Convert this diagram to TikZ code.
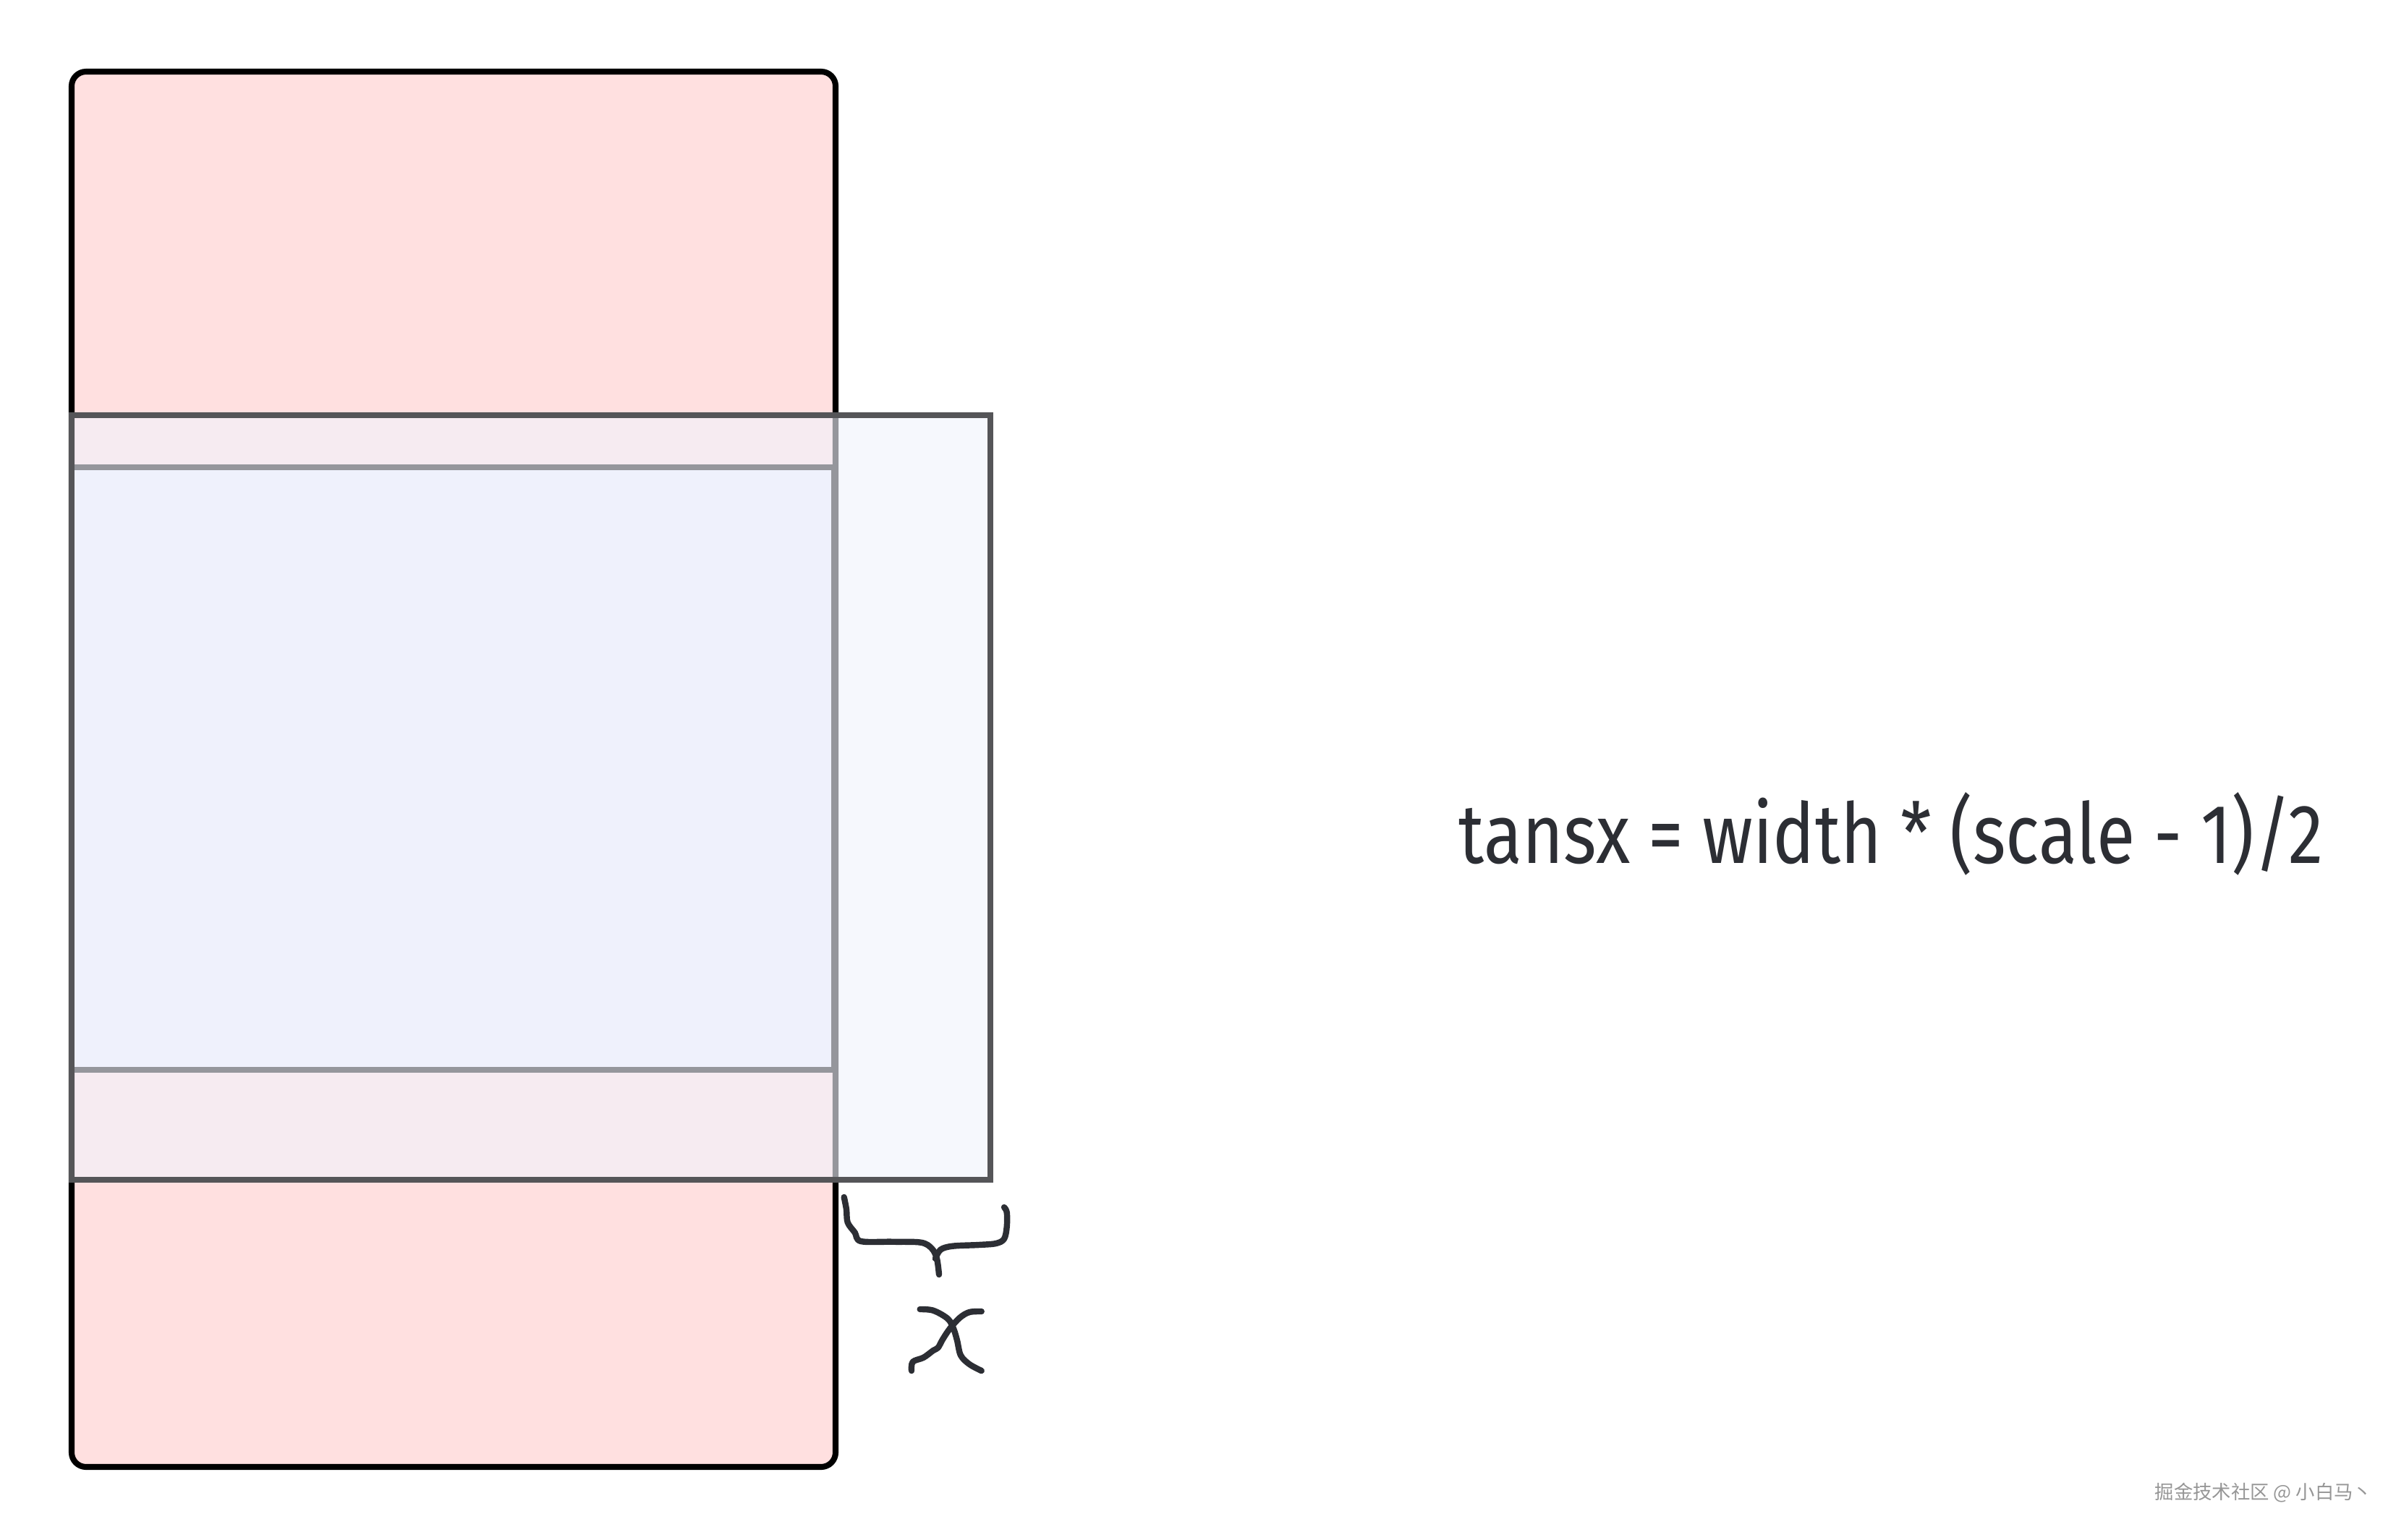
\documentclass[tikz,border=0pt]{standalone}
\usepackage{fontspec}
\setmainfont{Fira Sans}[FakeStretch=0.84]
\newfontfamily\cjkfont{Noto Sans CJK SC}
\usepackage{tikz}
\usetikzlibrary{positioning}
\usepackage{xcolor}
\definecolor{framepink}{RGB}{255,224,224}
\definecolor{innerblue}{RGB}{238,240,252}
\definecolor{overlayblue}{RGB}{241,243,252}
\definecolor{overlaygray}{RGB}{85,85,88}
\definecolor{inkdark}{RGB}{44,46,52}
\definecolor{markgray}{RGB}{150,150,150}

\begin{document}
\begin{tikzpicture}[
  pagebox/.style={draw=black, fill=framepink, line width=2.3pt,
    rounded corners=0.2cm, inner sep=0pt,
    minimum width=10.56cm, minimum height=19.29cm},
  innerbox/.style={draw=black, fill=innerblue, line width=2.3pt,
    inner sep=0pt, minimum width=10.54cm, minimum height=8.33cm},
  zoombox/.style={draw=overlaygray, fill=overlayblue, fill opacity=0.62,
    line width=2.3pt, inner sep=0pt,
    minimum width=12.70cm, minimum height=10.57cm},
  ink/.style={draw=inkdark, line width=2.4pt, line cap=round, line join=round},
  formula/.style={anchor=base, inner sep=0pt, text=inkdark,
    font=\fontsize{33pt}{40pt}\selectfont},
]
\useasboundingbox (0,0) rectangle (33.12,-21.28);

\node[pagebox]  at ( 6.27,-10.635) (page)  {};
\node[innerbox] at ( 6.26,-10.625) (inner) {};
\node[zoombox]  at ( 7.34,-11.025) (zoom)  {};

% hand drawn brace under the overhang
\draw[ink] plot[smooth, tension=0.55] coordinates {(11.667,-16.55) (11.70,-16.72) (11.717,-16.90) (11.817,-17.04) (11.90,-17.16) (12.33,-17.167) (12.73,-17.177) (12.88,-17.26) (12.95,-17.40) (12.98,-17.62)};
\draw[ink] plot[smooth, tension=0.55] coordinates {(12.93,-17.40) (13.00,-17.277) (13.167,-17.227) (13.53,-17.21) (13.767,-17.19) (13.88,-17.127) (13.917,-16.96) (13.917,-16.76) (13.88,-16.69)};

% hand drawn x
\draw[ink] plot[smooth, tension=0.55] coordinates {(12.717,-18.10) (12.90,-18.117) (13.10,-18.23) (13.18,-18.367) (13.23,-18.53) (13.28,-18.737) (13.40,-18.86) (13.567,-18.95)};
\draw[ink] plot[smooth, tension=0.55] coordinates {(13.567,-18.13) (13.40,-18.14) (13.267,-18.217) (13.13,-18.367) (13.03,-18.517) (12.967,-18.63) (12.90,-18.67) (12.767,-18.767) (12.617,-18.827) (12.60,-18.95)};

\node[formula] at (26.14,-11.93) (rule) {tansx = width * (scale - 1)/2};

\node[anchor=base west, inner sep=0pt, text=markgray,
  font=\cjkfont\fontsize{7.5pt}{9pt}\selectfont] at (29.78,-20.72) (mark) {掘金技术社区 @ 小白马丶};
\end{tikzpicture}
\end{document}
